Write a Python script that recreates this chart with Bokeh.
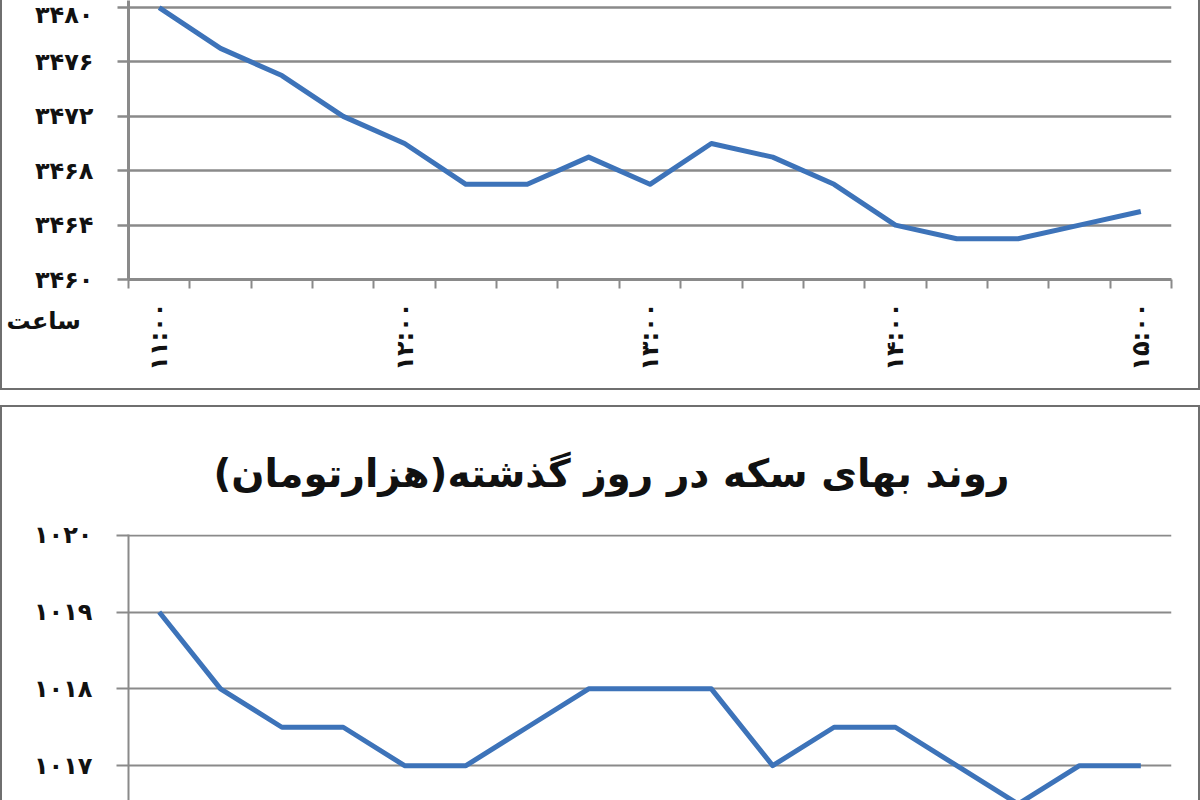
import math
from bokeh.plotting import figure
from bokeh.layouts import column
from bokeh.models import Range1d, FixedTicker, LinearAxis, Title
from bokeh.embed import file_html
from bokeh.resources import INLINE

# ---------------- data ----------------
times = ["۱۱:۰۰", "۱۱:۱۵", "۱۱:۳۰", "۱۱:۴۵", "۱۲:۰۰", "۱۲:۱۵", "۱۲:۳۰", "۱۲:۴۵",
         "۱۳:۰۰", "۱۳:۱۵", "۱۳:۳۰", "۱۳:۴۵", "۱۴:۰۰", "۱۴:۱۵", "۱۴:۳۰", "۱۴:۴۵", "۱۵:۰۰"]
shown_time_idx = [0, 4, 8, 12, 16]

top_values = [3480, 3477, 3475, 3472, 3470, 3467, 3467, 3469, 3467,
              3470, 3469, 3467, 3464, 3463, 3463, 3464, 3465]
top_yticks = [3460, 3464, 3468, 3472, 3476, 3480]
top_ylabels = ["۳۴۶۰", "۳۴۶۴", "۳۴۶۸", "۳۴۷۲", "۳۴۷۶", "۳۴۸۰"]
top_xtitle = "ساعت"

coin_values = [1019, 1018, 1017.5, 1017.5, 1017, 1017, 1017.5, 1018, 1018,
               1018, 1017, 1017.5, 1017.5, 1017, 1016.5, 1017, 1017]
coin_yticks = [1017, 1018, 1019, 1020]
coin_ylabels = ["۱۰۱۷", "۱۰۱۸", "۱۰۱۹", "۱۰۲۰"]
coin_title = "روند بهای سکه در روز گذشته(هزارتومان)"

# ---------------- styles ----------------
LINE_COLOR = "#3d73b9"
GRID_COLOR = "#8a8a8a"
BORDER = "2px solid #6f6f6f"
FONT = "DejaVu Sans"
LABEL_SIZE = "24px"

n = len(times)
xs = [i + 0.5 for i in range(n)]

# ---------------- top chart ----------------
p1 = figure(width=1200, height=390, output_backend="svg", toolbar_location=None,
            x_range=Range1d(0, n), y_range=Range1d(3460, 3480.52),
            min_border_left=126, min_border_right=31, min_border_top=0,
            min_border_bottom=111, x_axis_location=None, y_axis_location=None)
p1.outline_line_color = None
p1.styles = {"border-left": BORDER, "border-right": BORDER, "border-bottom": BORDER,
             "box-sizing": "border-box"}

p1.line(xs, top_values, line_color=LINE_COLOR, line_width=5, line_join="round")

ya1 = LinearAxis(ticker=FixedTicker(ticks=top_yticks))
ya1.major_label_overrides = {t: l for t, l in zip(top_yticks, top_ylabels)}
ya1.major_label_text_font = FONT
ya1.major_label_text_font_style = "bold"
ya1.major_label_text_font_size = LABEL_SIZE
ya1.major_label_text_color = "#111111"
ya1.major_label_standoff = 24
ya1.major_tick_out = 11
ya1.major_tick_in = 0
ya1.minor_tick_out = 0
ya1.axis_line_color = GRID_COLOR
ya1.axis_line_width = 3
ya1.major_tick_line_color = GRID_COLOR
ya1.major_tick_line_width = 2.5
p1.add_layout(ya1, "left")

# axis line + tick marks between the categories
xt1 = LinearAxis(ticker=FixedTicker(ticks=[], minor_ticks=list(range(n + 1))))
xt1.major_tick_out = 9
xt1.major_tick_in = 0
xt1.major_label_standoff = 0
xt1.minor_tick_out = 9
xt1.minor_tick_in = 0
xt1.minor_tick_line_color = GRID_COLOR
xt1.minor_tick_line_width = 2
xt1.axis_line_color = GRID_COLOR
xt1.axis_line_width = 3
p1.add_layout(xt1, "below")

# "hour" caption, left of the time labels
p1.add_layout(Title(text=top_xtitle, text_font=FONT, text_font_style="bold",
                    text_font_size=LABEL_SIZE, text_color="#111111",
                    align="left", offset=-122, standoff=32), "below")

# rotated time labels
xa1 = LinearAxis(ticker=FixedTicker(ticks=[xs[i] for i in shown_time_idx]))
xa1.major_label_overrides = {xs[i]: times[i] for i in shown_time_idx}
xa1.major_label_orientation = math.pi / 2
xa1.major_label_text_font = FONT
xa1.major_label_text_font_style = "bold"
xa1.major_label_text_font_size = LABEL_SIZE
xa1.major_label_text_color = "#111111"
xa1.major_label_standoff = -48
xa1.major_tick_out = 0
xa1.major_tick_in = 0
xa1.major_tick_line_color = None
xa1.minor_tick_line_color = None
xa1.axis_line_color = None
p1.add_layout(xa1, "below")

p1.ygrid.ticker = FixedTicker(ticks=top_yticks)
p1.ygrid.grid_line_color = GRID_COLOR
p1.ygrid.grid_line_width = 2.5
p1.xgrid.grid_line_color = None

# ---------------- bottom chart ----------------
p2 = figure(width=1200, height=395, output_backend="svg", toolbar_location=None,
            x_range=Range1d(0, n), y_range=Range1d(1016.52, 1020.01),
            min_border_left=126, min_border_right=31, min_border_top=127,
            min_border_bottom=0, x_axis_location=None, y_axis_location=None)
p2.outline_line_color = None
p2.styles = {"border-top": BORDER, "border-left": BORDER, "border-right": BORDER,
             "box-sizing": "border-box"}

p2.line(xs, coin_values, line_color=LINE_COLOR, line_width=5, line_join="round")

ya2 = LinearAxis(ticker=FixedTicker(ticks=coin_yticks))
ya2.major_label_overrides = {t: l for t, l in zip(coin_yticks, coin_ylabels)}
ya2.major_label_text_font = FONT
ya2.major_label_text_font_style = "bold"
ya2.major_label_text_font_size = LABEL_SIZE
ya2.major_label_text_color = "#111111"
ya2.major_label_standoff = 24
ya2.major_tick_out = 12
ya2.major_tick_in = 0
ya2.minor_tick_out = 0
ya2.axis_line_color = GRID_COLOR
ya2.axis_line_width = 2
ya2.major_tick_line_color = GRID_COLOR
ya2.major_tick_line_width = 2
p2.add_layout(ya2, "left")

p2.ygrid.ticker = FixedTicker(ticks=coin_yticks)
p2.ygrid.grid_line_color = GRID_COLOR
p2.ygrid.grid_line_width = 2
p2.xgrid.grid_line_color = None

t2 = Title(text=coin_title, text_font=FONT, text_font_style="bold",
           text_font_size="39px", align="left", offset=85, text_color="#111111",
           standoff=78, vertical_align="bottom")
p2.add_layout(t2, "above")

layout = column(p1, p2, spacing=15)
open("out.html", "w").write(file_html(layout, INLINE))
